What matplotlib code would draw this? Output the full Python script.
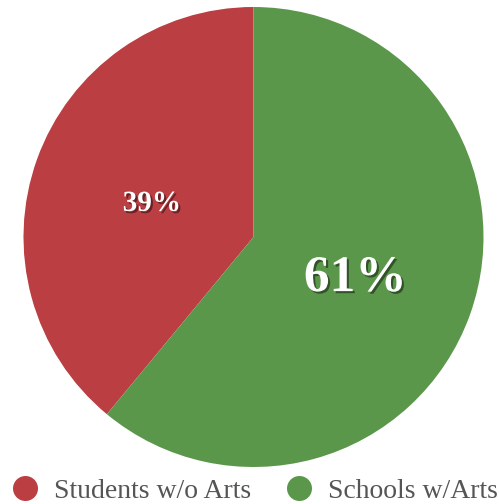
import matplotlib
matplotlib.use("Agg")
from matplotlib import pyplot as plt
from matplotlib.lines import Line2D
import matplotlib.patheffects as pe
import numpy as np

# data
labels = ["Students w/o Arts", "Schools w/Arts"]
values = [39, 61]
colors = ["#BA3E42", "#5B974A"]
pct_sizes = [21, 37]

plt.rcParams['font.family'] = ['Liberation Serif', 'DejaVu Serif']


def main():
  fig = plt.figure(figsize=(4.99, 5.04), dpi=100)
  # axes placed so the pie sits where it does in the original
  ax = fig.add_axes([23.5 / 499, 37 / 504, 460 / 499, 460 / 504])

  wedges, texts = ax.pie(values, colors=colors, startangle=90, counterclock=True,
                         radius=1, wedgeprops=dict(linewidth=0))
  ax.set_xlim(-1, 1)
  ax.set_ylim(-1, 1)
  ax.set_aspect("equal")
  ax.axis("off")

  # percent labels with a soft drop shadow
  total = sum(values)
  start = 90.0
  for v, fs in zip(values, pct_sizes):
    mid = np.deg2rad(start + v / total * 180.0)
    start += v / total * 360.0
    ax.text(0.47 * np.cos(mid), 0.47 * np.sin(mid), f"{v}%", ha="center", va="center_baseline",
            color="white", fontsize=fs, fontweight="bold",
            path_effects=[pe.SimplePatchShadow(offset=(1.5, -1.5), shadow_rgbFace="black", alpha=0.45),
                          pe.Normal()])

  handles = [Line2D([], [], marker="o", linestyle="none", markersize=18,
                    markerfacecolor=c, markeredgewidth=0) for c in colors]
  fig.legend(handles, labels, loc="lower left", bbox_to_anchor=(0.0, -0.022), ncol=2,
             frameon=False, fontsize=20, labelcolor="#555555",
             handletextpad=0.55, columnspacing=1.2, handlelength=1.0, borderaxespad=0.0)

  fig.savefig("out.png", dpi=100)


if __name__ == "__main__":
  main()
